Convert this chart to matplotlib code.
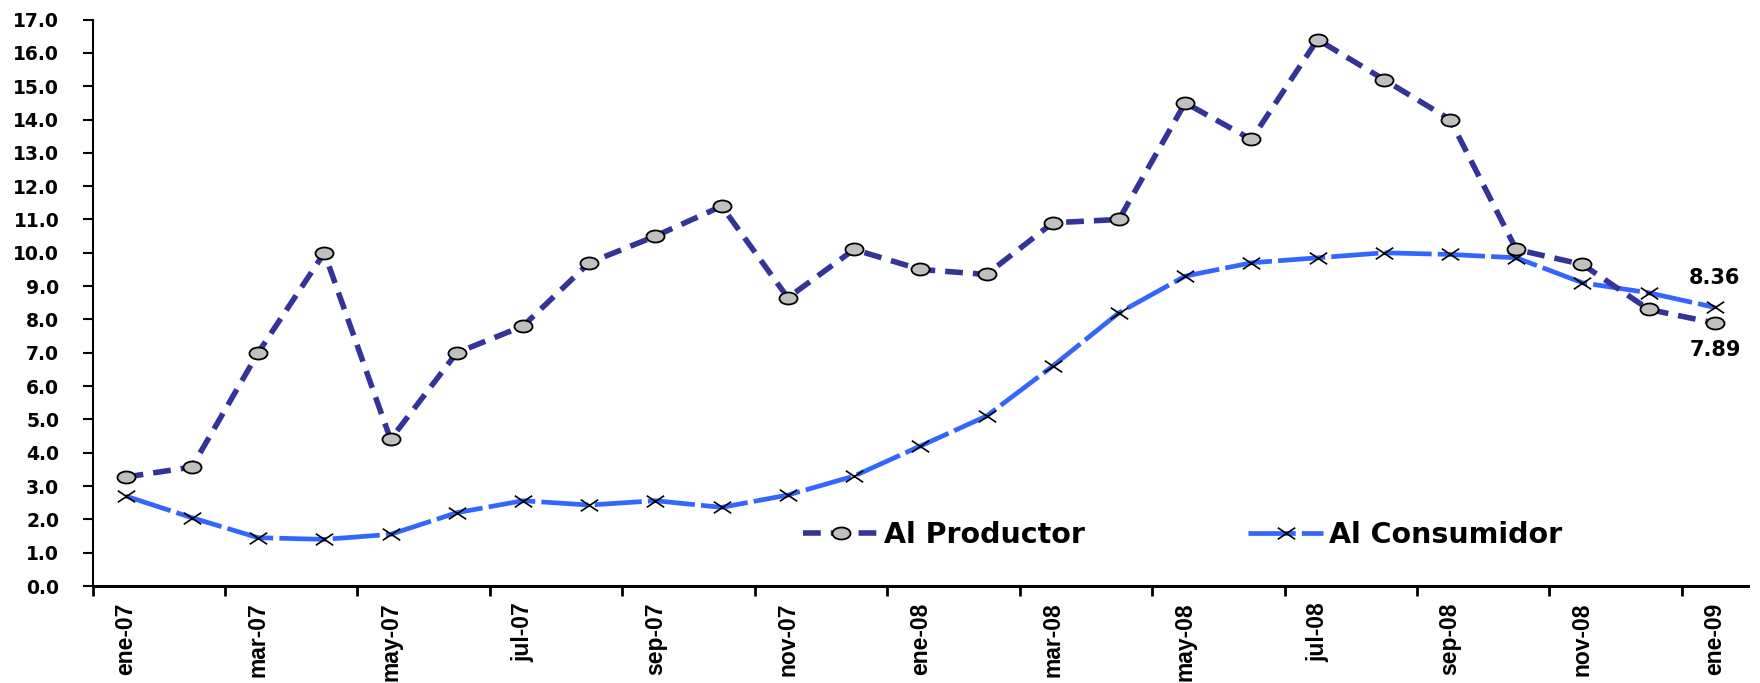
import numpy as np
import matplotlib
matplotlib.use('Agg')
import matplotlib.pyplot as plt
from matplotlib.path import Path
from matplotlib.transforms import Affine2D

'''Inflacion al productor y al consumidor, ene-07 a ene-09'''

months = ['ene-07', 'feb-07', 'mar-07', 'abr-07', 'may-07', 'jun-07', 'jul-07',
          'ago-07', 'sep-07', 'oct-07', 'nov-07', 'dic-07', 'ene-08', 'feb-08',
          'mar-08', 'abr-08', 'may-08', 'jun-08', 'jul-08', 'ago-08', 'sep-08',
          'oct-08', 'nov-08', 'dic-08', 'ene-09']

productor = [3.27, 3.57, 7.0, 10.0, 4.4, 7.0, 7.8, 9.7, 10.5, 11.4, 8.65, 10.1,
             9.5, 9.35, 10.9, 11.0, 14.5, 13.4, 16.4, 15.2, 14.0, 10.1, 9.65,
             8.3, 7.89]

consumidor = [2.7, 2.05, 1.45, 1.4, 1.55, 2.2, 2.56, 2.43, 2.56, 2.36, 2.73,
              3.3, 4.2, 5.1, 6.6, 8.2, 9.3, 9.7, 9.85, 10.0, 9.95, 9.85, 9.1,
              8.8, 8.36]

x = np.arange(len(months))

# the reference is stretched sideways, so markers are a bit wider than tall
ellipse = Path.unit_circle().transformed(Affine2D().scale(1.5, 1.0))
cross = Path([(-1.5, -1), (1.5, 1), (-1.5, 1), (1.5, -1)],
             [Path.MOVETO, Path.LINETO, Path.MOVETO, Path.LINETO])

fig = plt.figure(figsize=(17.6, 6.83), dpi=100)
ax = fig.add_axes([0.0526, 0.142, 0.9406, 0.8294])

ax.plot(x, consumidor, color='#3366FF', lw=3.4, dashes=(10, 1.3),
        marker=cross, markersize=12.5, markeredgecolor='black',
        markeredgewidth=1.2, label='Al Consumidor', zorder=2)
ax.plot(x, productor, color='#333399', lw=4.0, dashes=(3.2, 1.8),
        marker=ellipse, markersize=13, markerfacecolor='#C0C0C0',
        markeredgecolor='black', markeredgewidth=1.3,
        label='Al Productor', zorder=3)

ax.set_xlim(-0.5, len(months) - 0.5)
ax.set_ylim(0, 17)
ax.set_yticks(np.arange(0, 18, 1))
ax.set_yticklabels([f'{v:.1f}' for v in range(18)],
                   fontfamily='DejaVu Sans', fontweight='bold', fontsize=13.5)

ax.set_xticks(np.arange(-0.5, len(months) - 1, 2))
ax.set_xticklabels([])
ax.set_xticks(x[::2], minor=True)
ax.set_xticklabels(months[::2], minor=True, rotation=90,
                   fontfamily='Liberation Sans', fontweight='bold',
                   fontsize=16.5, va='top', ha='center')

ax.tick_params(axis='x', which='major', direction='out', length=7, width=2)
ax.tick_params(axis='x', which='minor', length=0, pad=12)
ax.tick_params(axis='y', direction='out', length=7, width=1.5, pad=17)

for side in ['top', 'right']:
    ax.spines[side].set_visible(False)
ax.spines['left'].set_linewidth(1.5)
ax.spines['bottom'].set_linewidth(2.2)

ax.annotate('8.36', (x[-1], consumidor[-1]), xytext=(0, 21.5),
            textcoords='offset points', ha='center', va='center',
            fontfamily='DejaVu Sans', fontweight='bold', fontsize=15,
            annotation_clip=False)
ax.annotate('7.89', (x[-1], productor[-1]), xytext=(0, -19.5),
            textcoords='offset points', ha='center', va='center',
            fontfamily='DejaVu Sans', fontweight='bold', fontsize=15,
            annotation_clip=False)

handles, labels = ax.get_legend_handles_labels()
leg = ax.legend(handles[::-1], labels[::-1], loc='center left',
                bbox_to_anchor=(0.4207, 0.09), ncol=2, frameon=False,
                borderpad=0, handlelength=2.63, handletextpad=0.2,
                columnspacing=5.75, numpoints=1,
                prop={'family': 'DejaVu Sans', 'weight': 'bold', 'size': 20.5})

plt.savefig('out.png', dpi=100)
